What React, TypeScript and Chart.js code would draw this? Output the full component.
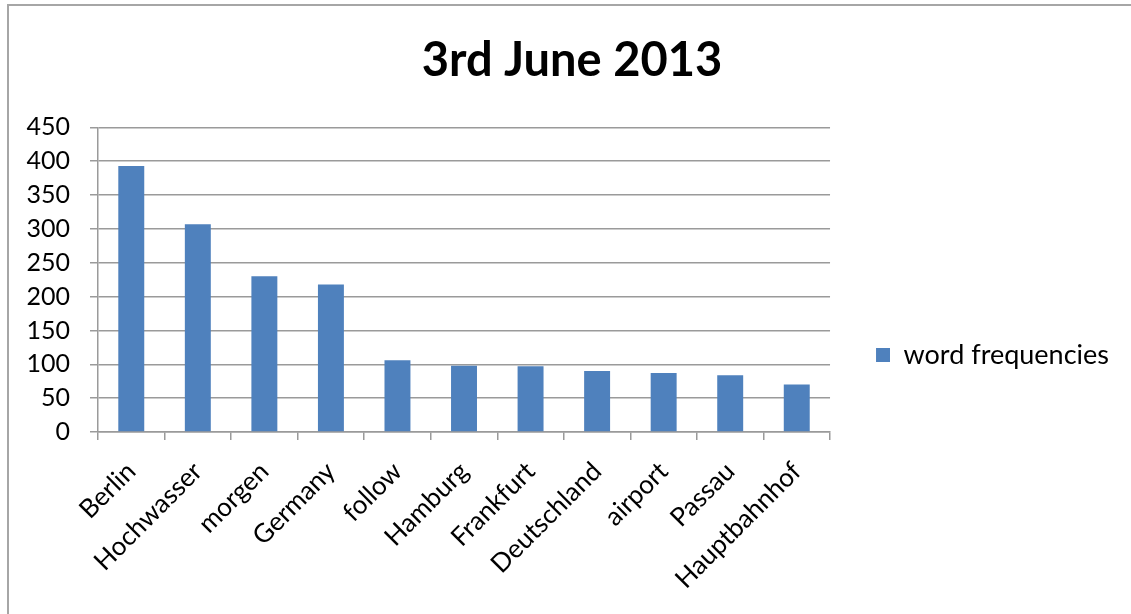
import { useEffect, useRef } from "react";
import Chart from "chart.js/auto";

const categories = [
  "Berlin",
  "Hochwasser",
  "morgen",
  "Germany",
  "follow",
  "Hamburg",
  "Frankfurt",
  "Deutschland",
  "airport",
  "Passau",
  "Hauptbahnhof",
];
const frequencies = [393, 307, 230, 218, 106, 98, 97, 90, 87, 84, 70];
const seriesLabel = "word frequencies";
const titleText = "3rd June 2013";
const yMin = 0;
const yMax = 450;
const yStep = 50;

export default function App() {
  const ref = useRef<HTMLCanvasElement>(null);
  useEffect(() => {
    const gridColor = "#9a9a9a";
    const legendShift = {
      id: "legendShift",
      afterLayout(chart: any) {
        const lg = chart.legend;
        if (!lg) return;
        const h = lg.bottom - lg.top;
        const target = 355;
        lg.top = target - h / 2;
        lg.bottom = lg.top + h;
      },
    };
    const chart = new Chart(ref.current!, {
      type: "bar",
      data: {
        labels: categories,
        datasets: [
          {
            label: seriesLabel,
            data: frequencies,
            backgroundColor: "#4F81BD",
            borderWidth: 0,
            barPercentage: 0.39,
            categoryPercentage: 1,
          },
        ],
      },
      options: {
        animation: false,
        responsive: false,
        layout: { padding: { left: 25, right: 12, top: 0, bottom: 0 } },
        plugins: {
          title: {
            display: true,
            text: titleText,
            font: { family: "Lato", size: 47, weight: "bold" },
            color: "#000",
            padding: { top: 33, bottom: 38 },
          },
          legend: {
            position: "right",
            maxWidth: 301,
            labels: {
              boxWidth: 14,
              boxHeight: 14,
              font: { family: "Lato", size: 27 },
              color: "#000",
              padding: 46,
            },
          },
          tooltip: { enabled: false },
        },
        scales: {
          x: {
            afterFit(scale: any) {
              scale.height = 182;
            },
            grid: {
              offset: true,
              drawOnChartArea: false,
              drawTicks: true,
              tickLength: 8,
              color: gridColor,
              lineWidth: 1.5,
            },
            border: { color: gridColor, width: 1.5 },
            ticks: {
              maxRotation: 45,
              minRotation: 45,
              font: { family: "Lato", size: 26 },
              color: "#000",
              padding: 16,
              autoSkip: false,
            },
          },
          y: {
            min: yMin,
            max: yMax,
            afterFit(scale: any) {
              scale.width = 73;
            },
            ticks: {
              stepSize: yStep,
              font: { family: "Lato", size: 25 },
              color: "#000",
              padding: 20,
            },
            grid: { color: gridColor, lineWidth: 1.5, tickLength: 8 },
            border: { color: gridColor, width: 1.5 },
          },
        },
      },
      plugins: [legendShift],
    });
    return () => chart.destroy();
  }, []);

  return (
    <div
      style={{
        position: "fixed",
        left: 0,
        top: 0,
        width: 1131,
        height: 614,
        background: "#fff",
        overflow: "hidden",
      }}
    >
      <canvas
        ref={ref}
        width={1131}
        height={614}
        style={{ position: "absolute", left: 0, top: 0, width: 1131, height: 614 }}
      />
      <div
        style={{
          position: "absolute",
          left: 7,
          top: 4,
          width: 1140,
          height: 620,
          borderLeft: "2px solid #a6a6a6",
          borderTop: "2px solid #a6a6a6",
          pointerEvents: "none",
        }}
      />
    </div>
  );
}
